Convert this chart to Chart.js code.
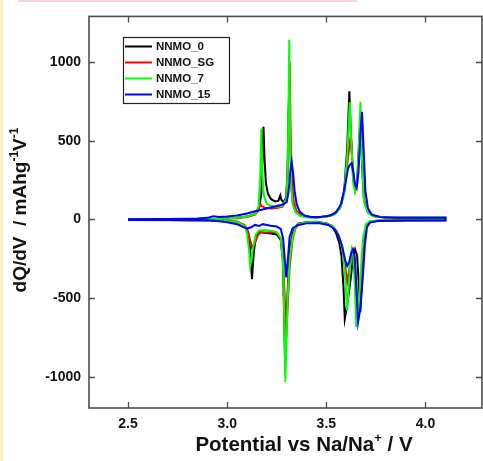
<!DOCTYPE html>
<html><head><meta charset="utf-8">
<script src="https://cdn.jsdelivr.net/npm/chart.js@4"></script>
<style>
html,body{margin:0;padding:0;background:#fff;}
#wrap{position:relative;width:483px;height:461px;overflow:hidden;background:#fff;}
#c{position:absolute;left:0;top:0;}
.strip{position:absolute;left:0;top:0;width:3px;height:461px;background:#fdeec4;}
.band{position:absolute;left:18px;top:0;width:339px;height:2px;background:#fbd6d6;}
</style></head>
<body><div id="wrap"><canvas id="c" width="483" height="461"></canvas><div class="strip"></div><div class="band"></div></div>
<script>
// ---- data (V, dQ/dV) ----
const seriesLabels = ['NNMO_0', 'NNMO_SG', 'NNMO_7', 'NNMO_15'];
const xTickValues = [2.5, 3.0, 3.5, 4.0];
const yTickValues = [-1000, -500, 0, 500, 1000];

const NNMO_0_charge = [[2.50,2],[2.70,2],[2.85,3],[2.95,5],[3.05,10],[3.10,18],[3.14,35],[3.16,70],[3.172,160],[3.178,400],[3.183,589],[3.188,400],[3.195,230],[3.205,165],[3.22,130],[3.24,115],[3.258,118],[3.264,140],[3.268,153],[3.273,125],[3.285,108],[3.297,140],[3.304,300],[3.309,650],[3.314,880],[3.318,520],[3.323,230],[3.33,110],[3.345,50],[3.37,25],[3.40,15],[3.45,12],[3.50,18],[3.54,35],[3.57,80],[3.59,180],[3.605,450],[3.616,814],[3.625,500],[3.635,260],[3.645,185],[3.655,230],[3.664,450],[3.672,650],[3.68,350],[3.69,120],[3.71,45],[3.74,20],[3.80,12],[3.90,10],[4.10,10]];
const NNMO_0_discharge = [[4.10,-5],[3.90,-5],[3.75,-8],[3.715,-15],[3.70,-40],[3.69,-150],[3.68,-380],[3.671,-590],[3.663,-400],[3.655,-230],[3.645,-190],[3.635,-240],[3.625,-350],[3.612,-480],[3.600,-580],[3.593,-631],[3.586,-420],[3.576,-230],[3.565,-150],[3.55,-90],[3.53,-45],[3.50,-25],[3.45,-15],[3.40,-18],[3.36,-25],[3.345,-45],[3.33,-90],[3.315,-200],[3.305,-450],[3.297,-720],[3.292,-905],[3.287,-600],[3.28,-250],[3.27,-130],[3.25,-95],[3.22,-90],[3.19,-85],[3.16,-80],[3.145,-105],[3.135,-200],[3.129,-300],[3.125,-379],[3.12,-280],[3.113,-150],[3.105,-80],[3.09,-40],[3.05,-15],[2.95,-6],[2.70,-4],[2.50,-3]];

const NNMO_SG_charge = [[2.50,0],[2.65,-3],[2.80,-2],[2.95,3],[3.05,8],[3.10,15],[3.14,30],[3.158,60],[3.166,100],[3.174,85],[3.19,75],[3.22,70],[3.25,72],[3.28,82],[3.298,130],[3.306,320],[3.311,680],[3.315,1000],[3.32,520],[3.327,230],[3.336,110],[3.35,50],[3.375,25],[3.40,18],[3.45,14],[3.50,18],[3.54,35],[3.57,75],[3.59,170],[3.61,400],[3.624,546],[3.632,360],[3.64,225],[3.648,200],[3.658,280],[3.667,500],[3.675,680],[3.683,350],[3.693,110],[3.715,40],[3.75,18],[3.80,12],[3.90,10],[4.10,10]];
const NNMO_SG_discharge = [[4.10,-4],[3.90,-5],[3.75,-10],[3.715,-20],[3.70,-45],[3.69,-150],[3.68,-350],[3.67,-550],[3.66,-640],[3.652,-450],[3.643,-260],[3.633,-200],[3.622,-260],[3.612,-350],[3.605,-400],[3.595,-300],[3.58,-180],[3.565,-110],[3.55,-70],[3.53,-40],[3.50,-25],[3.45,-16],[3.40,-20],[3.36,-30],[3.345,-55],[3.33,-120],[3.315,-300],[3.305,-550],[3.298,-750],[3.29,-500],[3.282,-250],[3.27,-120],[3.25,-85],[3.22,-80],[3.19,-84],[3.17,-80],[3.155,-100],[3.14,-150],[3.125,-179],[3.115,-130],[3.105,-75],[3.09,-40],[3.05,-15],[2.95,-6],[2.70,-4],[2.50,-3]];

const NNMO_7_charge = [[2.50,2],[2.80,3],[2.95,5],[3.05,10],[3.10,18],[3.14,35],[3.158,80],[3.166,250],[3.172,578],[3.177,300],[3.185,150],[3.20,100],[3.22,85],[3.25,80],[3.28,85],[3.298,130],[3.305,300],[3.309,700],[3.313,1142],[3.317,600],[3.322,220],[3.33,100],[3.345,45],[3.37,22],[3.40,14],[3.45,12],[3.50,15],[3.54,30],[3.57,70],[3.59,160],[3.605,400],[3.618,746],[3.627,450],[3.637,220],[3.645,175],[3.655,220],[3.663,450],[3.672,746],[3.68,380],[3.69,110],[3.71,40],[3.74,18],[3.80,12],[3.90,11],[4.10,12]];
const NNMO_7_discharge = [[4.10,-4],[3.90,-5],[3.75,-8],[3.72,-10],[3.70,-30],[3.685,-120],[3.675,-300],[3.665,-520],[3.651,-684],[3.643,-400],[3.635,-220],[3.628,-190],[3.62,-280],[3.612,-450],[3.605,-579],[3.597,-400],[3.585,-220],[3.572,-140],[3.555,-85],[3.535,-45],[3.50,-25],[3.45,-16],[3.40,-18],[3.36,-28],[3.345,-50],[3.33,-110],[3.315,-250],[3.305,-500],[3.298,-800],[3.293,-1031],[3.288,-650],[3.281,-260],[3.27,-120],[3.25,-80],[3.22,-72],[3.19,-68],[3.16,-70],[3.145,-95],[3.132,-170],[3.122,-260],[3.116,-295],[3.11,-190],[3.10,-90],[3.09,-45],[3.05,-15],[2.95,-6],[2.70,-4],[2.50,-3]];

const NNMO_15_charge = [[2.50,2],[2.70,3],[2.85,6],[2.90,10],[2.93,20],[2.96,16],[3.00,18],[3.05,25],[3.10,38],[3.15,55],[3.20,70],[3.25,85],[3.28,95],[3.30,110],[3.31,180],[3.318,300],[3.325,368],[3.332,300],[3.34,180],[3.35,100],[3.365,50],[3.39,25],[3.42,16],[3.47,15],[3.52,25],[3.55,45],[3.575,100],[3.595,220],[3.61,326],[3.62,350],[3.628,357],[3.636,300],[3.645,220],[3.653,200],[3.662,300],[3.672,550],[3.68,683],[3.688,450],[3.697,180],[3.71,70],[3.73,30],[3.77,15],[3.85,10],[4.10,10]];
const NNMO_15_discharge = [[4.10,-6],[3.90,-6],[3.76,-10],[3.72,-20],[3.705,-50],[3.695,-150],[3.685,-350],[3.672,-560],[3.660,-652],[3.651,-420],[3.643,-240],[3.634,-190],[3.625,-215],[3.615,-270],[3.605,-295],[3.595,-260],[3.58,-170],[3.56,-100],[3.54,-60],[3.51,-35],[3.46,-22],[3.40,-25],[3.36,-35],[3.33,-55],[3.315,-110],[3.306,-250],[3.298,-368],[3.29,-250],[3.282,-120],[3.27,-60],[3.25,-45],[3.22,-40],[3.20,-35],[3.18,-30],[3.16,-42],[3.14,-35],[3.12,-50],[3.10,-58],[3.08,-48],[3.05,-30],[3.00,-18],[2.95,-10],[2.90,-5],[2.50,-3]];

// ---- styles ----
const seriesColors = ['#000000', '#ff0000', '#00ff00', '#0000ff'];
const drawOrder = [3, 2, 1, 0];
const FONT = '"Liberation Sans", Arial, Helvetica, sans-serif';

const branches = [
  [NNMO_0_charge, NNMO_0_discharge],
  [NNMO_SG_charge, NNMO_SG_discharge],
  [NNMO_7_charge, NNMO_7_discharge],
  [NNMO_15_charge, NNMO_15_discharge]
];

const datasets = seriesLabels.map((lab, i) => ({
  label: lab,
  data: branches[i][0].concat(branches[i][1]).map(p => ({x: p[0], y: p[1]})),
  borderColor: seriesColors[i],
  backgroundColor: seriesColors[i],
  borderWidth: 2,
  pointRadius: 0,
  tension: 0,
  fill: false,
  order: drawOrder[i]
}));

function richText(ctx, segs, cx, cy, size) {
  let w = 0;
  segs.forEach(s => {
    ctx.font = 'bold ' + (s.sup ? Math.round(size * 0.62) : size) + 'px ' + FONT;
    s.w = ctx.measureText(s.t).width; w += s.w;
  });
  let x = cx - w / 2;
  ctx.textAlign = 'left';
  ctx.textBaseline = 'alphabetic';
  segs.forEach(s => {
    ctx.font = 'bold ' + (s.sup ? Math.round(size * 0.62) : size) + 'px ' + FONT;
    ctx.fillText(s.t, x, s.sup ? cy - size * 0.42 : cy);
    x += s.w;
  });
}

const framePlugin = {
  id: 'frame',
  afterDatasetsDraw(chart) {
    const {ctx, chartArea: a, scales: {x, y}} = chart;
    ctx.save();
    ctx.strokeStyle = '#4d4d4d';
    ctx.lineWidth = 1.6;
    ctx.strokeRect(a.left, a.top, a.right - a.left, a.bottom - a.top);
    ctx.beginPath();
    xTickValues.forEach(v => {
      const px = Math.round(x.getPixelForValue(v)) + 0.5;
      ctx.moveTo(px, a.bottom); ctx.lineTo(px, a.bottom - 6);
      ctx.moveTo(px, a.top); ctx.lineTo(px, a.top + 6);
    });
    yTickValues.forEach(v => {
      const py = Math.round(y.getPixelForValue(v)) + 0.5;
      ctx.moveTo(a.left, py); ctx.lineTo(a.left + 6, py);
      ctx.moveTo(a.right, py); ctx.lineTo(a.right - 6, py);
    });
    ctx.lineWidth = 1.3;
    ctx.stroke();

    // legend
    const lx = 123.5, ly = 37.5, lw = 106, lh = 66;
    ctx.fillStyle = '#fff';
    ctx.fillRect(lx, ly, lw, lh);
    ctx.strokeStyle = '#222';
    ctx.lineWidth = 1.2;
    ctx.strokeRect(lx, ly, lw, lh);
    chart.data.datasets.forEach((ds, i) => {
      const ry = 46.5 + 16 * i;
      ctx.strokeStyle = ds.borderColor;
      ctx.lineWidth = 2;
      ctx.beginPath(); ctx.moveTo(125, ry); ctx.lineTo(152, ry); ctx.stroke();
      ctx.fillStyle = '#111';
      ctx.font = 'bold 11.5px ' + FONT;
      ctx.textAlign = 'left'; ctx.textBaseline = 'middle';
      ctx.fillText(ds.label, 156, ry + 0.5);
    });

    // axis titles
    ctx.fillStyle = '#111';
    richText(ctx, [{t: 'Potential vs Na/Na'}, {t: '+', sup: true}, {t: ' / V'}], 304, 451, 20.5);
    ctx.save();
    ctx.translate(25.5, 210);
    ctx.rotate(-Math.PI / 2);
    richText(ctx, [{t: 'dQ/dV  / mAhg'}, {t: '-1', sup: true}, {t: 'V'}, {t: '-1', sup: true}], 0, 0, 19);
    ctx.restore();
    ctx.restore();
  }
};

new Chart(document.getElementById('c'), {
  type: 'line',
  data: {datasets},
  options: {
    responsive: false,
    animation: false,
    devicePixelRatio: 1,
    layout: {padding: {top: 14, right: 1, left: 0, bottom: 0}},
    plugins: {legend: {display: false}, tooltip: {enabled: false}},
    scales: {
      x: {
        type: 'linear', min: 2.303, max: 4.285,
        afterBuildTicks: s => { s.ticks = xTickValues.map(v => ({value: v})); },
        afterFit: s => { s.height = 53; },
        grid: {display: false, drawTicks: false},
        border: {display: false},
        ticks: {padding: 8, color: '#111', autoSkip: false, maxRotation: 0,
          font: {family: FONT, weight: 'bold', size: 14},
          callback: v => Number(v).toFixed(1)}
      },
      y: {
        type: 'linear', min: -1198, max: 1290,
        afterBuildTicks: s => { s.ticks = yTickValues.map(v => ({value: v})); },
        afterFit: s => { s.width = 89; },
        grid: {display: false, drawTicks: false},
        border: {display: false},
        ticks: {padding: 8, color: '#111', autoSkip: false,
          font: {family: FONT, weight: 'bold', size: 14},
          callback: v => String(v)}
      }
    }
  },
  plugins: [framePlugin]
});
</script>
</body></html>
